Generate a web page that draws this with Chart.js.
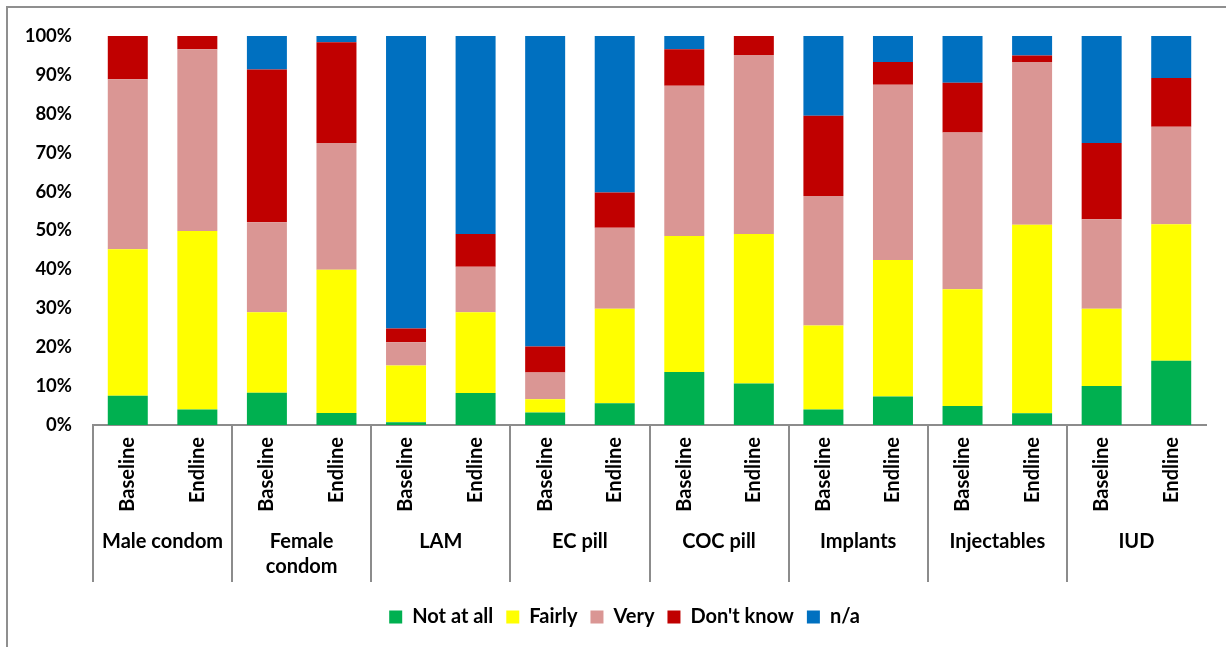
<!DOCTYPE html>
<html>
<head>
<meta charset="utf-8">
<script src="https://cdn.jsdelivr.net/npm/chart.js@4/dist/chart.umd.min.js"></script>
<style>
  html, body { margin: 0; padding: 0; background: #ffffff; }
  #wrap { width: 1226px; height: 647px; }
</style>
</head>
<body>
<div id="wrap"><canvas id="chart" width="1226" height="647"></canvas></div>
<script>
// Contraceptive methods, each surveyed at baseline and endline
const methods = ['Male condom', ['Female', 'condom'], 'LAM', 'EC pill', 'COC pill', 'Implants', 'Injectables', 'IUD'];
const rounds = ['Baseline', 'Endline'];
const barLabels = methods.flatMap(() => rounds);

// Share of responses (%) per bar, in the order of barLabels
const notAtAll = [7.5, 4.0, 8.3, 3.1, 0.7, 8.2, 3.2, 5.6, 13.6, 10.7, 4.0, 7.3, 4.9, 3.0, 10.0, 16.5];
const fairly   = [37.7, 45.9, 20.7, 36.8, 14.6, 20.8, 3.4, 24.3, 35.0, 38.4, 21.6, 35.1, 30.0, 48.5, 19.9, 35.1];
const very     = [43.7, 46.7, 23.1, 32.6, 6.0, 11.7, 6.9, 20.8, 38.6, 46.0, 33.3, 45.1, 40.3, 41.8, 23.0, 25.1];
const dontKnow = [11.1, 3.4, 39.3, 25.9, 3.5, 8.4, 6.7, 9.1, 9.4, 4.9, 20.6, 5.8, 12.8, 1.7, 19.6, 12.5];
const notApplicable = [0, 0, 8.6, 1.6, 75.2, 50.9, 79.8, 40.2, 3.4, 0, 20.5, 6.7, 12.0, 5.0, 27.5, 10.8];

const yTicks = [0, 10, 20, 30, 40, 50, 60, 70, 80, 90, 100];

const FONT = 'Lato, "Open Sans", sans-serif';
const TEXT_SIZE = 20;
const AXIS_GREY = '#8c8c8c';

// Outer frame of the chart
const framePlugin = {
  id: 'frame',
  beforeDraw(chart) {
    const c = chart.ctx;
    c.save();
    c.fillStyle = '#ffffff';
    c.fillRect(0, 0, chart.width, chart.height);
    c.strokeStyle = '#8f8f8f';
    c.lineWidth = 2;
    c.strokeRect(7, 7, chart.width + 20, chart.height + 20);
    c.restore();
  }
};

// Centre the legend under the plot rather than under the whole canvas
const legendShiftPlugin = {
  id: 'legendShift',
  afterLayout(chart) {
    const lg = chart.legend;
    if (!lg) return;
    const dx = (chart.chartArea.left + chart.chartArea.right) / 2 - (lg.left + lg.right) / 2 - 25;
    lg.left += dx;
    lg.right += dx;
  }
};

// Method names centred under each baseline/endline pair
const groupLabelPlugin = {
  id: 'groupLabels',
  afterDraw(chart) {
    const x = chart.scales.x;
    const c = chart.ctx;
    c.save();
    c.font = 'bold ' + TEXT_SIZE + 'px ' + FONT;
    c.fillStyle = '#000000';
    c.textAlign = 'center';
    c.textBaseline = 'middle';
    methods.forEach((m, g) => {
      const cx = (x.getPixelForValue(2 * g) + x.getPixelForValue(2 * g + 1)) / 2;
      const lines = Array.isArray(m) ? m : [m];
      lines.forEach((line, i) => c.fillText(line, cx, x.top + 117 + i * 25));
    });
    c.restore();
  }
};

function build() {
  const mk = (label, data, color) => ({
    label, data, backgroundColor: color, borderWidth: 0,
    barPercentage: 0.575, categoryPercentage: 1.0
  });
  new Chart(document.getElementById('chart'), {
    type: 'bar',
    data: {
      labels: barLabels,
      datasets: [
        mk('Not at all', notAtAll, '#00B050'),
        mk('Fairly', fairly, '#FFFF00'),
        mk('Very', very, '#DA9694'),
        mk("Don't know", dontKnow, '#C00000'),
        mk('n/a', notApplicable, '#0070C0')
      ]
    },
    options: {
      responsive: false,
      animation: false,
      layout: { padding: { top: 36, left: 0, right: 20, bottom: 10 } },
      plugins: {
        tooltip: { enabled: false },
        legend: {
          position: 'bottom',
          labels: {
            boxWidth: 13, boxHeight: 13, padding: 13,
            color: '#000000',
            font: { family: FONT, size: TEXT_SIZE, weight: 'bold' }
          }
        }
      },
      scales: {
        x: {
          stacked: true,
          offset: true,
          afterFit(s) { s.height = 169; },
          border: { display: true, color: AXIS_GREY, width: 2 },
          grid: {
            display: true, offset: true, drawOnChartArea: false,
            drawTicks: true, tickLength: 157, lineWidth: 2,
            color: ctx => (ctx.index % 2 === 0 ? AXIS_GREY : 'rgba(0,0,0,0)')
          },
          ticks: {
            autoSkip: false, minRotation: 90, maxRotation: 90,
            padding: -145, color: '#000000',
            font: { family: FONT, size: TEXT_SIZE, weight: 'bold' }
          }
        },
        y: {
          stacked: true,
          min: 0, max: 100,
          afterFit(s) { s.width = 93; },
          afterBuildTicks(s) { s.ticks = yTicks.map(v => ({ value: v })); },
          border: { display: false },
          grid: { display: false, drawTicks: false },
          ticks: {
            padding: 21, color: '#000000',
            font: { family: FONT, size: 18.5, weight: 'bold' },
            callback: v => v + '%'
          }
        }
      }
    },
    plugins: [framePlugin, legendShiftPlugin, groupLabelPlugin]
  });
}

document.fonts.load('bold 20px Lato').then(build, build);
</script>
</body>
</html>
